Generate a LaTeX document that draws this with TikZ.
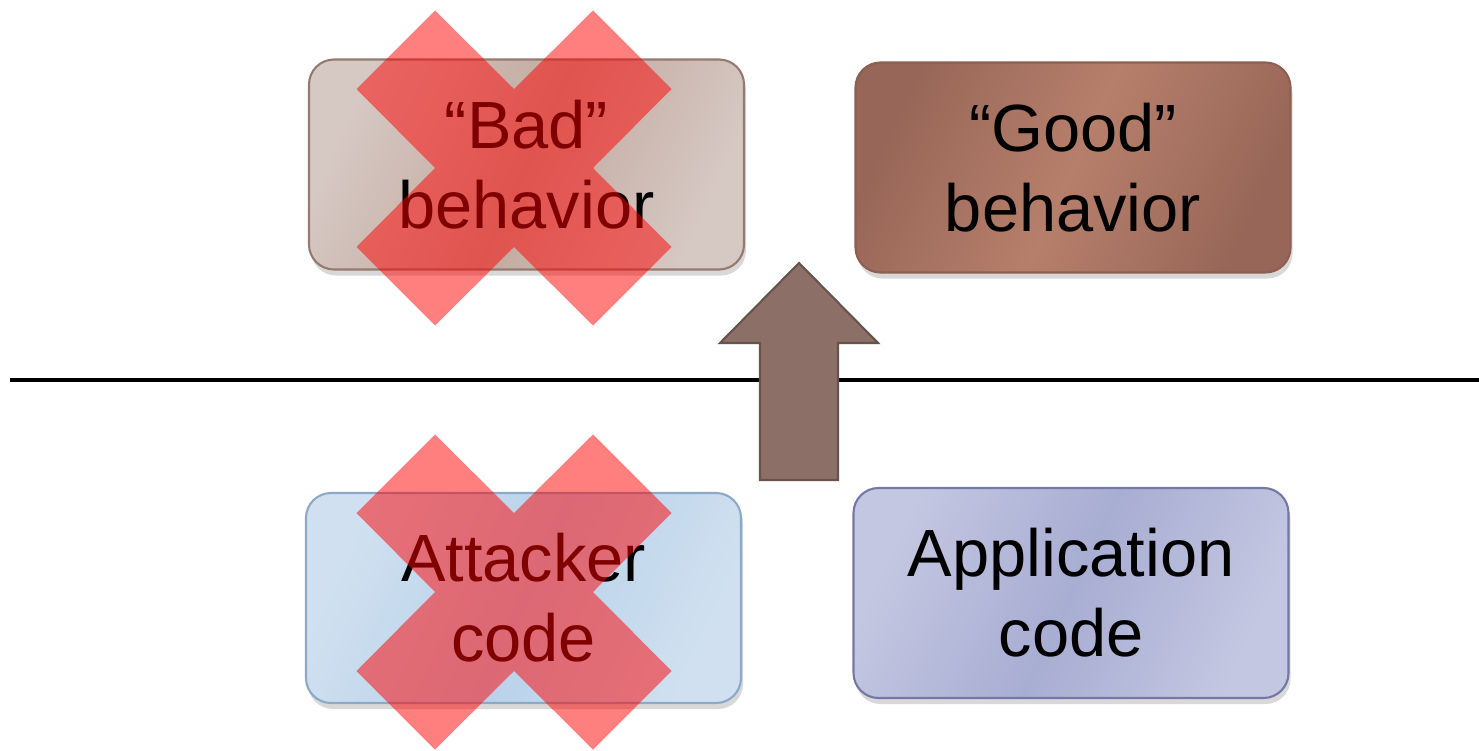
\documentclass[tikz,border=0pt]{standalone}
\usepackage{fontspec}
\setmainfont{Liberation Sans}
\usetikzlibrary{shadows}
\definecolor{badL}{RGB}{214,200,195}
\definecolor{badM}{RGB}{194,170,160}
\definecolor{badB}{RGB}{150,122,112}
\definecolor{goodL}{RGB}{152,102,88}
\definecolor{goodM}{RGB}{182,127,107}
\definecolor{goodB}{RGB}{140,95,82}
\definecolor{attL}{RGB}{208,224,240}
\definecolor{attM}{RGB}{184,210,234}
\definecolor{attB}{RGB}{140,170,200}
\definecolor{appL}{RGB}{196,199,225}
\definecolor{appM}{RGB}{168,173,211}
\definecolor{appB}{RGB}{115,120,165}
\definecolor{arrF}{RGB}{140,112,104}
\definecolor{arrB}{RGB}{105,82,76}
\tikzset{
  box/.style={draw, line width=0.6pt, rounded corners=0.25cm,
    minimum width=4.35cm, minimum height=2.1cm, align=center, inner sep=0pt,
    font=\fontsize{19pt}{22.8pt}\selectfont,
    drop shadow={opacity=0.3, shadow xshift=0.02cm, shadow yshift=-0.06cm}},
  diag/.style={shading angle=65},
  cross/.style={fill=red, fill opacity=0.5, draw=none},
  crossx/.pic={\fill[cross] (0,0.79) -- (0.79,1.575) -- (1.575,0.79) -- (0.79,0)
     -- (1.575,-0.79) -- (0.79,-1.575) -- (0,-0.79) -- (-0.79,-1.575)
     -- (-1.575,-0.79) -- (-0.79,0) -- (-1.575,0.79) -- (-0.79,1.575) -- cycle;},
  blockarrow/.style={fill=arrF, draw=arrB, line width=0.6pt, line join=miter},
  divider/.style={line width=1.1pt, black}
}
\begin{document}
\begin{tikzpicture}
\useasboundingbox (0,0) rectangle (14.79,7.5);
\fill[white] (0,0) rectangle (14.79,7.5);
% divider line
\coordinate (lineL) at (0.10,3.70);
\coordinate (lineR) at (14.79,3.70);
\draw[divider] (lineL) -- (lineR);
% boxes
\node[box, draw=badB, left color=badL, right color=badL, middle color=badM, diag] (bad) at (5.265,5.855) {“Bad”\\behavior};
\node[box, draw=goodB, left color=goodL, right color=goodL, middle color=goodM, diag] (good) at (10.73,5.825) {“Good”\\behavior};
\node[box, draw=attB, left color=attL, right color=attL, middle color=attM, diag] (att) at (5.235,1.52) {Attacker\\code};
\node[box, draw=appB, left color=appL, right color=appL, middle color=appM, diag] (app) at (10.71,1.57) {Application\\code};
% block arrow
\draw[blockarrow] (7.60,2.70) -- (7.60,4.07) -- (7.20,4.07) -- (7.99,4.87)
   -- (8.78,4.07) -- (8.38,4.07) -- (8.38,2.70) -- cycle;
% crosses
\pic at (5.14,5.82) {crossx};
\pic at (5.14,1.58) {crossx};
\end{tikzpicture}
\end{document}
